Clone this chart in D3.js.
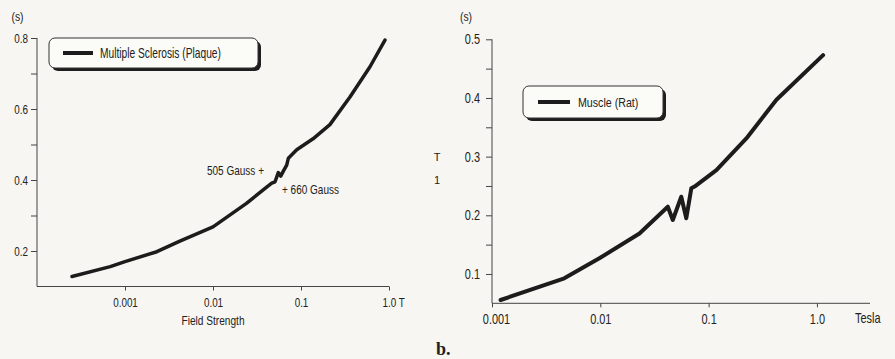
<!DOCTYPE html>
<html>
<head>
<meta charset="utf-8">
<script src="https://cdn.jsdelivr.net/npm/d3@7"></script>
<style>
  body { margin: 0; background: #f7f6f2; }
  svg { display: block; }
  text { font-family: "Liberation Sans", Arial, sans-serif; fill: #222; }
  .axis path, .axis line { stroke: #444; stroke-width: 1; }
  .curve { fill: none; stroke: #1c1c1c; stroke-linejoin: round; stroke-linecap: round; }
</style>
</head>
<body>
<svg id="chart"></svg>
<script>
// left panel: Multiple Sclerosis (Plaque), T1 (s) vs field strength (T)
const msField = [0.00025, 0.00068, 0.001, 0.0023, 0.0042, 0.01, 0.024, 0.0407, 0.0465, 0.0507,
  0.0552, 0.0588, 0.063, 0.0688, 0.0718, 0.0894, 0.137, 0.213, 0.36, 0.608, 0.90];
const msT1 = [0.128, 0.156, 0.170, 0.198, 0.228, 0.268, 0.334, 0.380, 0.391, 0.395,
  0.421, 0.411, 0.425, 0.442, 0.461, 0.485, 0.516, 0.556, 0.634, 0.719, 0.794];

// right panel: Muscle (Rat)
const ratField = [0.0012, 0.00465, 0.0098, 0.023, 0.042, 0.0467, 0.0559, 0.0622, 0.0692, 0.0742,
  0.118, 0.223, 0.423, 1.14];
const ratT1 = [0.0556, 0.0926, 0.1267, 0.169, 0.2146, 0.192, 0.2317, 0.195, 0.246, 0.249,
  0.277, 0.331, 0.397, 0.473];

// ticks
const leftYTicks = [0.2, 0.4, 0.6, 0.8];
const leftYMinor = [0.3, 0.5, 0.7];
const leftXTicks = [0.001, 0.01, 0.1, 1];
const leftXLabels = ["0.001", "0.01", "0.1", "1.0 T"];
const rightYTicks = [0.1, 0.2, 0.3, 0.4, 0.5];
const rightYMinor = [0.15, 0.25, 0.35, 0.45];
const rightXTicks = [0.001, 0.01, 0.1, 1];
const rightXLabels = ["0.001", "0.01", "0.1", "1.0"];

const svg = d3.select("#chart").attr("width", 895).attr("height", 359);

// 压窄的文字 (condensed look)
function label(g, x, y, str, size, sx, anchor) {
  return g.append("text")
    .attr("transform", `translate(${x},${y}) scale(${sx},1)`)
    .attr("text-anchor", anchor || "start")
    .style("font-size", size + "px")
    .text(str);
}

// 画一个面板
function drawPanel(o) {
  const x = d3.scaleLog().domain(o.xDomain).range(o.xRange);
  const y = d3.scaleLinear().domain(o.yDomain).range(o.yRange);
  const g = svg.append("g");

  // y axis (major + minor)
  g.append("g")
    .attr("class", "axis")
    .attr("transform", `translate(${o.xRange[0]},0)`)
    .call(d3.axisLeft(y).tickValues(o.yTicks).tickSize(6).tickSizeOuter(0).tickFormat(d3.format(".1f")))
    .call(s => s.selectAll("text").style("font-size", o.fs + "px")
      .attr("x", o.yLabelGap / o.sx).attr("transform", `scale(${o.sx},1)`))
    .call(s => s.select(".domain").attr("d", `M0,${o.yRange[0]}V${o.yRange[1]}`));
  g.append("g")
    .attr("class", "axis")
    .attr("transform", `translate(${o.xRange[0]},0)`)
    .call(d3.axisLeft(y).tickValues(o.yMinor).tickSize(6).tickFormat(""))
    .call(s => s.select(".domain").remove());

  // x axis
  const xa = g.append("g")
    .attr("class", "axis")
    .attr("transform", `translate(0,${o.yRange[0]})`)
    .call(d3.axisBottom(x).tickValues(o.xTicks).tickSize(4).tickSizeOuter(0)
      .tickFormat((d, i) => o.xLabels[i]))
    .call(s => s.selectAll("text").style("font-size", o.fs + "px").attr("y", 11)
      .attr("transform", `scale(${o.sx},1)`))
    .call(s => s.select(".domain").attr("d", `M${o.xRange[0]},0H${o.xRange[1]}`));
  if (o.firstShift) {
    xa.selectAll(".tick").filter((d, i) => i === 0)
      .select("text").attr("x", o.firstShift / o.sx);
  }
  if (o.lastShift) {
    xa.selectAll(".tick").filter((d, i) => i === o.xTicks.length - 1)
      .select("text").attr("text-anchor", "start").attr("x", o.lastShift / o.sx);
  }

  // curve
  const line = d3.line().x(d => x(d[0])).y(d => y(d[1]));
  g.append("path")
    .datum(o.xs.map((v, i) => [v, o.ys[i]]))
    .attr("class", "curve")
    .attr("stroke-width", o.sw)
    .attr("d", line);

  // units label
  label(g, o.unitsX, 21, "(s)", 13, 0.8, "middle");

  // legend with drop shadow
  const L = o.legend;
  g.append("rect").attr("x", L.x + 3).attr("y", L.y + 3).attr("width", L.w).attr("height", L.h)
    .attr("rx", 6).attr("fill", "#1e1e1e");
  g.append("rect").attr("x", L.x).attr("y", L.y).attr("width", L.w).attr("height", L.h)
    .attr("rx", 6).attr("fill", "#fbfbf8").attr("stroke", "#333").attr("stroke-width", 1);
  g.append("line").attr("x1", L.lx1).attr("x2", L.lx2)
    .attr("y1", L.y + L.h / 2).attr("y2", L.y + L.h / 2)
    .attr("stroke", "#1c1c1c").attr("stroke-width", 4);
  label(g, L.tx, L.y + L.h / 2 + 5, L.label, L.fs, L.sx);

  return { x, y, g };
}

const left = drawPanel({
  xDomain: [1e-4, 1], xRange: [37, 389],
  yDomain: [0.1, 0.8], yRange: [286.5, 38],
  yTicks: leftYTicks, yMinor: leftYMinor,
  xTicks: leftXTicks, xLabels: leftXLabels, lastShift: -7,
  xs: msField, ys: msT1, sw: 3.5, fs: 13, sx: 0.76, yLabelGap: -9, unitsX: 17.5,
  legend: { x: 49, y: 38, w: 209, h: 30, lx1: 63, lx2: 93, tx: 100, fs: 14, sx: 0.73,
    label: "Multiple Sclerosis (Plaque)" }
});

label(left.g, 213, 325, "Field Strength", 13, 0.78, "middle");
label(left.g, 264, 175, "505 Gauss +", 13, 0.77, "end");
label(left.g, 282, 194, "+ 660 Gauss", 13, 0.77);

const right = drawPanel({
  xDomain: [0.001, Math.pow(10, 0.49)], xRange: [492, 870],
  yDomain: [0.05, 0.5], yRange: [303.3, 39.3],
  yTicks: rightYTicks, yMinor: rightYMinor,
  xTicks: rightXTicks, xLabels: rightXLabels, firstShift: 4,
  xs: ratField, ys: ratT1, sw: 4, fs: 14, sx: 0.78, yLabelGap: -12, unitsX: 466,
  legend: { x: 523, y: 86, w: 140, h: 32, lx1: 538, lx2: 570, tx: 578, fs: 13, sx: 0.82,
    label: "Muscle (Rat)" }
});

label(right.g, 855, 323, "Tesla", 14, 0.78);

// T1 label between panels
svg.append("text").attr("x", 437).attr("y", 161).attr("text-anchor", "middle")
  .style("font-size", "11px").text("T");
svg.append("text").attr("x", 437).attr("y", 184).attr("text-anchor", "middle")
  .style("font-size", "11px").text("1");

svg.append("text").attr("x", 436).attr("y", 355)
  .style("font-family", "'Liberation Serif', 'DejaVu Serif', serif")
  .style("font-weight", "bold").style("font-size", "18px").text("b.");
</script>
</body>
</html>
